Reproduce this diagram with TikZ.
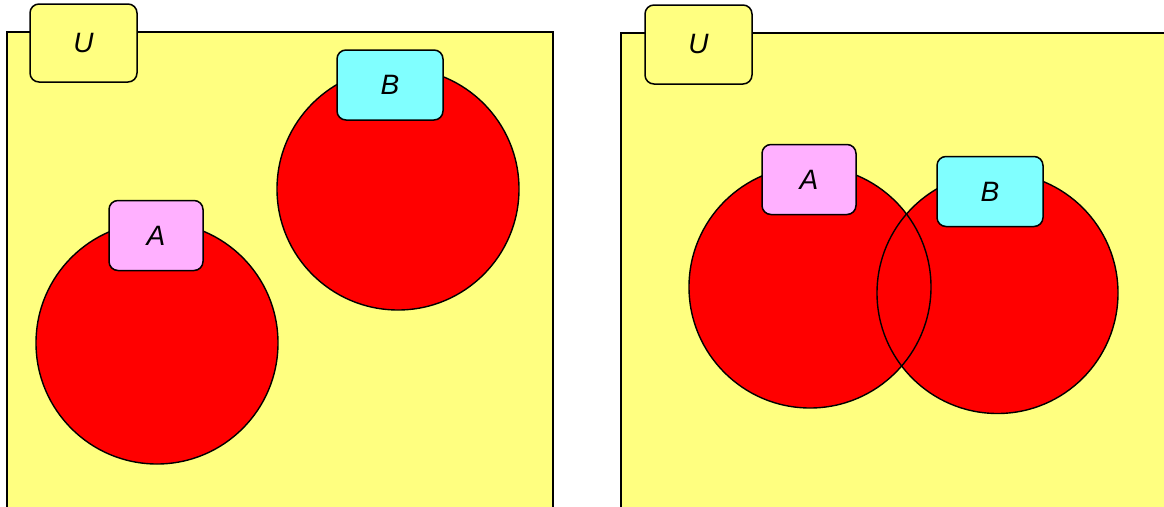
\documentclass[tikz,border=0pt]{standalone}
\usepackage{fontspec}
\setmainfont{Liberation Sans}
\definecolor{uyellow}{RGB}{255,255,128}
\definecolor{lcyan}{RGB}{128,255,255}
\definecolor{lpink}{RGB}{255,176,255}
\definecolor{cred}{RGB}{255,0,0}
\tikzset{
  universe/.style={draw=black, line width=1.5pt},
  tag/.style={draw=black, line width=1.5pt, rounded corners=9pt, inner sep=0pt,
    font=\fontsize{28}{30}\selectfont\itshape},
  settag/.style={tag, minimum width=94pt, minimum height=70pt},
  setcircle/.style={fill=cred},
  setoutline/.style={draw=black, line width=1.4pt},
}
\begin{document}
\begin{tikzpicture}[x=1pt,y=-1pt]
\useasboundingbox (0,0) rectangle (1164,506);
% left universe
\fill[uyellow] (7,32) rectangle (553,520);
\path[universe] (7,520) -- (7,32) -- (553,32) -- (553,520);
\node[tag, fill=uyellow, minimum width=107pt, minimum height=78pt] (u1) at (83.5,43) {U};
\node[circle, setcircle, setoutline, minimum size=242pt, inner sep=0pt] (a1) at (157,343) {};
\node[circle, setcircle, setoutline, minimum size=242pt, inner sep=0pt] (b1) at (398,189) {};
\node[settag, fill=lpink] (la1) at (156,235.5) {A};
\node[settag, fill=lcyan, minimum width=106pt] (lb1) at (390,85) {B};
% right universe
\fill[uyellow] (621,33) rectangle (1180,520);
\path[universe] (621,520) -- (621,33) -- (1180,33);
\node[tag, fill=uyellow, minimum width=107pt, minimum height=79pt] (u2) at (698.5,44.5) {U};
\fill[cred] (810,287) circle (121pt);
\fill[cred] (997.5,293) circle (120.5pt);
\draw[setoutline] (810,287) circle (121pt);
\draw[setoutline] (997.5,293) circle (120.5pt);
\node[settag, fill=lpink] (la2) at (809,179.5) {A};
\node[settag, fill=lcyan, minimum width=106pt] (lb2) at (990,191.5) {B};
\end{tikzpicture}
\end{document}
